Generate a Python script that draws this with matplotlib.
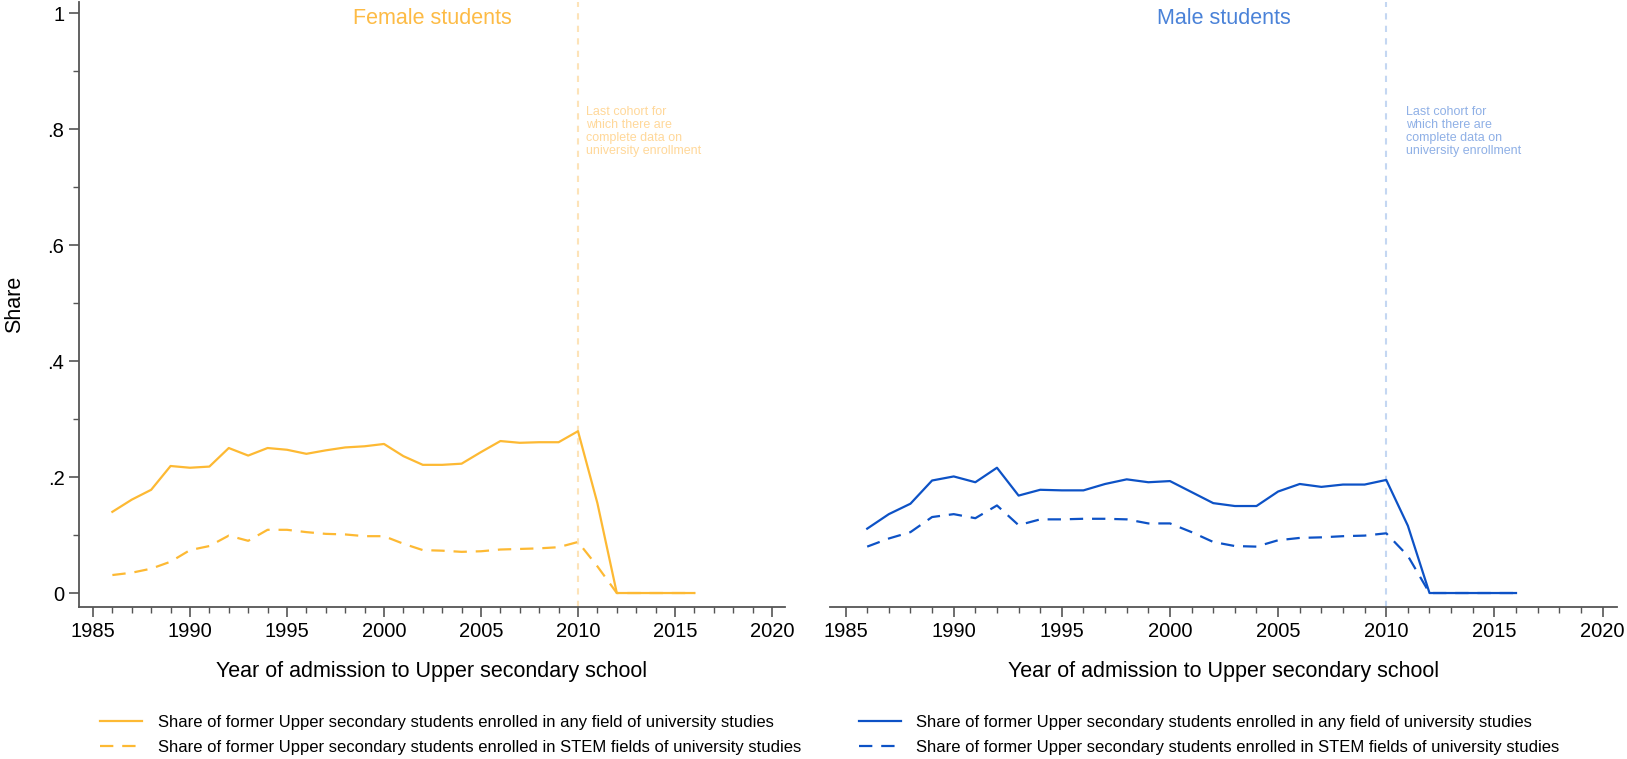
import matplotlib
matplotlib.use("Agg")
import matplotlib.pyplot as plt
from matplotlib.ticker import MultipleLocator, FuncFormatter
from matplotlib.lines import Line2D

plt.rcParams['font.family'] = ['Liberation Sans', 'DejaVu Sans']

years = list(range(1986, 2017))
female_any = [0.140, 0.161, 0.178, 0.219, 0.216, 0.218, 0.250, 0.237, 0.250, 0.247,
              0.240, 0.246, 0.251, 0.253, 0.257, 0.236, 0.221, 0.221, 0.223, 0.243,
              0.262, 0.259, 0.260, 0.260, 0.279, 0.155, 0, 0, 0, 0, 0]
female_stem = [0.031, 0.035, 0.042, 0.054, 0.074, 0.081, 0.099, 0.090, 0.109, 0.109,
               0.105, 0.102, 0.101, 0.098, 0.098, 0.085, 0.074, 0.073, 0.071, 0.072,
               0.075, 0.076, 0.077, 0.079, 0.088, 0.046, 0, 0, 0, 0, 0]
male_any = [0.111, 0.136, 0.154, 0.194, 0.201, 0.191, 0.216, 0.168, 0.178, 0.177,
            0.177, 0.188, 0.196, 0.191, 0.193, 0.174, 0.155, 0.150, 0.150, 0.175,
            0.188, 0.183, 0.187, 0.187, 0.195, 0.116, 0, 0, 0, 0, 0]
male_stem = [0.080, 0.094, 0.105, 0.131, 0.136, 0.129, 0.151, 0.117, 0.127, 0.127,
             0.128, 0.128, 0.127, 0.120, 0.120, 0.105, 0.088, 0.081, 0.080, 0.091,
             0.095, 0.096, 0.098, 0.099, 0.103, 0.064, 0, 0, 0, 0, 0]

last_cohort = 2010
label_any = "Share of former Upper secondary students enrolled in any field of university studies"
label_stem = "Share of former Upper secondary students enrolled in STEM fields of university studies"
note = "Last cohort for\nwhich there are\ncomplete data on\nuniversity enrollment"

W, H = 1627, 759
fig = plt.figure(figsize=(W / 100, H / 100), dpi=100)

def frame(px_left, px_right, px_bottom=607, px_top=2):
    return [px_left / W, (H - px_bottom) / H, (px_right - px_left) / W, (px_bottom - px_top) / H]

ax1 = fig.add_axes(frame(79, 785))
ax2 = fig.add_axes(frame(830, 1617))

# ax, series, title, line colour, title colour, note colour, cutoff-line colour, note offset, legend x (px)
panels = [
    (ax1, female_any, female_stem, "Female students", '#FDB933', '#FDBB45', '#FFD89A', '#FDE3B8', 6, 97),
    (ax2, male_any, male_stem, "Male students", '#0D52C6', '#4A82D8', '#8FB0E6', '#C4D7F2', 14, 856),
]

axis_col = '#555555'
dash = (0, (6, 4))

for ax, any_v, stem_v, title, col, tcol, ncol, vcol, off, leg_x in panels:
    ax.axvline(last_cohort, color=vcol, lw=1.5, ls=(0, (3, 3)), zorder=1)
    ax.plot(years, any_v, color=col, lw=1.6, zorder=3)
    ax.plot(years, stem_v, color=col, lw=1.6, ls=dash, zorder=3)
    ax.set_xlim(1984.28, 2020.67)
    ax.set_ylim(-0.0241, 1.019)
    ax.xaxis.set_major_locator(MultipleLocator(5))
    ax.xaxis.set_minor_locator(MultipleLocator(1))
    ax.tick_params(axis='x', which='major', length=7, width=1.2, color=axis_col, labelsize=14.5, pad=4)
    ax.tick_params(axis='x', which='minor', length=4, width=1.0, color=axis_col)
    for s in ['top', 'right']:
        ax.spines[s].set_visible(False)
    ax.spines['bottom'].set_color(axis_col)
    ax.spines['bottom'].set_linewidth(1.3)
    ax.set_xlabel("Year of admission to Upper secondary school", fontsize=15.5, labelpad=14)
    ax.text(sum(ax.get_xlim()) / 2, 0.99, title, color=tcol, fontsize=15.5, ha='center', va='center')
    ax.annotate(note, xy=(last_cohort, 0.84), xytext=(off, 0), textcoords='offset points',
                color=ncol, fontsize=9, ha='left', va='top', linespacing=1.12)
    handles = [Line2D([], [], color=col, lw=1.6), Line2D([], [], color=col, lw=1.6, ls=dash)]
    ax.legend(handles, [label_any, label_stem], loc='upper left',
              bbox_to_anchor=((leg_x - 12) / W, 1 - 700 / H), bbox_transform=fig.transFigure,
              frameon=False, fontsize=12, handlelength=2.5, handletextpad=0.95, labelspacing=0.6)

ax1.yaxis.set_major_locator(MultipleLocator(0.2))
ax1.yaxis.set_minor_locator(MultipleLocator(0.1))
ax1.yaxis.set_major_formatter(FuncFormatter(lambda v, p: '0' if abs(v) < 1e-9 else ('1' if abs(v - 1) < 1e-9 else ('%.1f' % v).lstrip('0'))))
ax1.tick_params(axis='y', which='major', length=7, width=1.2, color=axis_col, labelsize=14.5)
ax1.tick_params(axis='y', which='minor', length=4, width=1.0, color=axis_col)
ax1.spines['left'].set_color(axis_col)
ax1.spines['left'].set_linewidth(1.3)
ax1.set_ylabel("Share", fontsize=15.5, labelpad=16)

ax2.spines['left'].set_visible(False)
ax2.tick_params(axis='y', which='both', left=False, labelleft=False)

fig.savefig("out.png", dpi=100)
